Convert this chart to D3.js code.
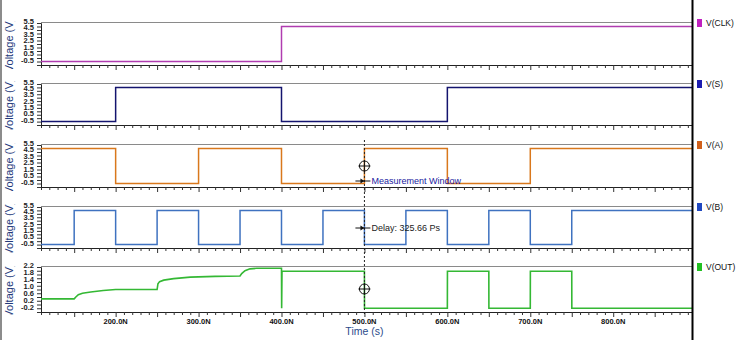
<!DOCTYPE html>
<html><head><meta charset="utf-8">
<script src="https://cdn.jsdelivr.net/npm/d3@7"></script>
<style>body{margin:0;background:#fff}svg{display:block}</style>
</head><body>
<script>
// ---- data ----
const seriesNames = ["V(CLK)", "V(S)", "V(A)", "V(B)", "V(OUT)"];
const clkEdges = [110, 400];
const clkLevels = [0, 5];
const sEdges = [110, 200, 400, 600];
const sLevels = [0, 5, 0, 5];
const aEdges = [110, 200, 300, 400, 500, 600, 700];
const aLevels = [5, 0, 5, 0, 5, 0, 5];
const bEdges = [110, 150, 200, 250, 300, 350, 400, 450, 500, 550, 600, 650, 700, 750];
const bLevels = [0, 5, 0, 5, 0, 5, 0, 5, 0, 5, 0, 5, 0, 5];
const outTimes = [110, 150, 152, 155, 160, 170, 185, 200, 250, 251, 253, 258, 270, 290, 320, 350, 352, 356, 362, 370, 400, 400.2, 400.6, 500, 500.1, 600, 600.1, 650, 650.1, 700, 700.1, 750, 750.1, 895];
const outValues = [0.5, 0.5, 0.6, 0.72, 0.8, 0.87, 0.95, 1.0, 1.0, 1.3, 1.42, 1.5, 1.58, 1.66, 1.7, 1.72, 1.85, 2.0, 2.1, 2.13, 2.13, 0, 1.97, 1.97, 0, 0, 1.97, 1.97, 0, 0, 1.97, 1.97, 0, 0];
const voltTicks = ["5.5", "4.5", "3.5", "2.5", "1.5", "0.5", "-0.5"];
const outTicks = ["2.2", "1.8", "1.4", "1.0", "0.6", "0.2", "-0.2"];
const timeTicks = ["200.0N", "300.0N", "400.0N", "500.0N", "600.0N", "700.0N", "800.0N"];
const timeDomain = [110, 895];
const cursorTime = 500;
const annotations = ["Measurement Window", "Delay: 325.66 Ps"];

// ---- layout ----
const W = 743, H = 340;
const colors = ["#b03cb0", "#14146e", "#d9781c", "#3f72c0", "#34b834"];
const legendColors = ["#c020c0", "#1c1cb0", "#d0601a", "#2048c0", "#22c022"];
const tops = [23, 84, 145, 207, 267];
const bottoms = [65, 125, 187, 248, 312];
const x = d3.scaleLinear().domain(timeDomain).range([41, 692]);

const svg = d3.select("body").append("svg").attr("width", W).attr("height", H)
  .style("font-family", "'Liberation Sans', Arial, sans-serif");

const defs = svg.append("defs");
svg.append("line").attr("x1", 1).attr("x2", 1).attr("y1", 0).attr("y2", H).attr("stroke", "#666").attr("stroke-width", 1.5);

function stepData(edges, levels) {
  const d = edges.map((t, i) => [t, levels[i]]);
  d.push([timeDomain[1], levels[levels.length - 1]]);
  return d;
}
const dataSets = [
  stepData(clkEdges, clkLevels),
  stepData(sEdges, sLevels),
  stepData(aEdges, aLevels),
  stepData(bEdges, bLevels),
  outTimes.map((t, i) => [t, outValues[i]])
];

seriesNames.forEach((name, i) => {
  const isOut = i === 4;
  const dom = isOut ? [-0.2, 2.2] : [-0.5, 5.5];
  const y = d3.scaleLinear().domain(dom).range([bottoms[i], tops[i]]);
  const g = svg.append("g");

  // top gray border
  g.append("line").attr("x1", 41).attr("x2", 692).attr("y1", tops[i] - 0.5).attr("y2", tops[i] - 0.5)
    .attr("stroke", "#8a8a8a").attr("stroke-width", 1.2);

  // x axis with ticks
  const xa = d3.axisBottom(x).tickValues(d3.range(110, 896, 10)).tickSize(3).tickFormat("");
  const gx = g.append("g").attr("transform", `translate(0,${bottoms[i]})`).call(xa);
  gx.select(".domain").attr("stroke", "#222");
  gx.selectAll(".tick line").attr("stroke", "#333")
    .attr("y2", d => d % 50 === 0 ? 5 : 3);
  const gx2 = g.append("g").attr("transform", `translate(0,${bottoms[i]})`);
  if (isOut) {
    const tv = timeTicks.map(s => parseFloat(s));
    gx2.selectAll("text").data(timeTicks).join("text")
      .attr("x", (s, k) => x(tv[k])).attr("y", 12)
      .attr("text-anchor", "middle").attr("font-size", 7.5).attr("font-weight", "bold").attr("fill", "#111")
      .text(s => s);
  }

  // y axis
  const tickVals = (isOut ? outTicks : voltTicks).map(s => parseFloat(s));
  const minorStep = isOut ? 0.2 : 0.5;
  const minor = d3.range(dom[0], dom[1] + 1e-9, minorStep);
  const ya = d3.axisLeft(y).tickValues(minor).tickSize(4).tickFormat("");
  const gy = g.append("g").attr("transform", "translate(41,0)").call(ya);
  gy.select(".domain").attr("stroke", "#222");
  gy.selectAll(".tick line").attr("stroke", "#333");
  const labels = isOut ? outTicks : voltTicks;
  gy.selectAll(".lbl").data(labels).join("text").attr("class", "lbl")
    .attr("x", -7)
    .attr("y", (s, k) => {
      const yy = y(tickVals[k]);
      const f = (yy - tops[i]) / (bottoms[i] - tops[i]);
      return yy - 2 - 3 * f;
    })
    .attr("dy", "0.35em").attr("text-anchor", "end")
    .attr("font-size", 7.5).attr("font-weight", "bold").attr("fill", "#222")
    .text(s => s);

  // y title clipped
  const cid = "clip" + i;
  const cy = (tops[i] + bottoms[i]) / 2 + 1;
  defs.append("clipPath").attr("id", cid).append("rect")
    .attr("x", 0).attr("y", cy - 24).attr("width", 20).attr("height", 48);
  g.append("g").attr("clip-path", `url(#${cid})`).append("text")
    .attr("transform", `translate(12.5,${cy}) rotate(-90)`)
    .attr("text-anchor", "middle").attr("font-size", 11).attr("fill", "#23387a")
    .text("Voltage (V)");

  // line
  const line = d3.line().x(d => x(d[0])).y(d => y(d[1]))
    .curve(isOut ? d3.curveLinear : d3.curveStepAfter);
  g.append("path").datum(dataSets[i]).attr("d", line).attr("fill", "none")
    .attr("stroke", colors[i]).attr("stroke-width", isOut ? 1.6 : 1.5);

  // legend
  g.append("rect").attr("x", 697).attr("y", tops[i] - 4).attr("width", 5).attr("height", 8).attr("fill", legendColors[i]);
  g.append("text").attr("x", 706).attr("y", tops[i]).attr("dy", "0.35em")
    .attr("font-size", 8.5).attr("fill", "#111").text(name);
});

// right black border
svg.append("line").attr("x1", 692.5).attr("x2", 692.5).attr("y1", 0).attr("y2", H).attr("stroke", "#000").attr("stroke-width", 2);

// x title
svg.append("text").attr("x", x(cursorTime)).attr("y", 334.5).attr("text-anchor", "middle")
  .attr("font-size", 10.5).attr("fill", "#2b4b8b").text("Time (s)");

// cursor
const cx = x(cursorTime);
svg.append("line").attr("x1", cx).attr("x2", cx).attr("y1", 140).attr("y2", 315)
  .attr("stroke", "#222").attr("stroke-width", 1).attr("stroke-dasharray", "2,2");
[166, 289].forEach(cyy => {
  const c = svg.append("g");
  c.append("circle").attr("cx", cx).attr("cy", cyy).attr("r", 5).attr("fill", "none").attr("stroke", "#111");
  c.append("line").attr("x1", cx - 6).attr("x2", cx + 6).attr("y1", cyy).attr("y2", cyy).attr("stroke", "#111");
  c.append("line").attr("x1", cx).attr("x2", cx).attr("y1", cyy - 6).attr("y2", cyy + 6).attr("stroke", "#111");
});
[[181, "#1a1aa0", annotations[0]], [228, "#222", annotations[1]]].forEach(([yy, col, txt]) => {
  svg.append("line").attr("x1", cx - 9).attr("x2", cx + 6).attr("y1", yy).attr("y2", yy).attr("stroke", "#111");
  svg.append("path").attr("d", `M${cx},${yy} l-4,-2.5 l0,5 z`).attr("fill", "#111");
  svg.append("text").attr("x", cx + 7).attr("y", yy).attr("dy", "0.35em")
    .attr("font-size", 9).attr("fill", col).text(txt);
});
</script>
</body></html>
